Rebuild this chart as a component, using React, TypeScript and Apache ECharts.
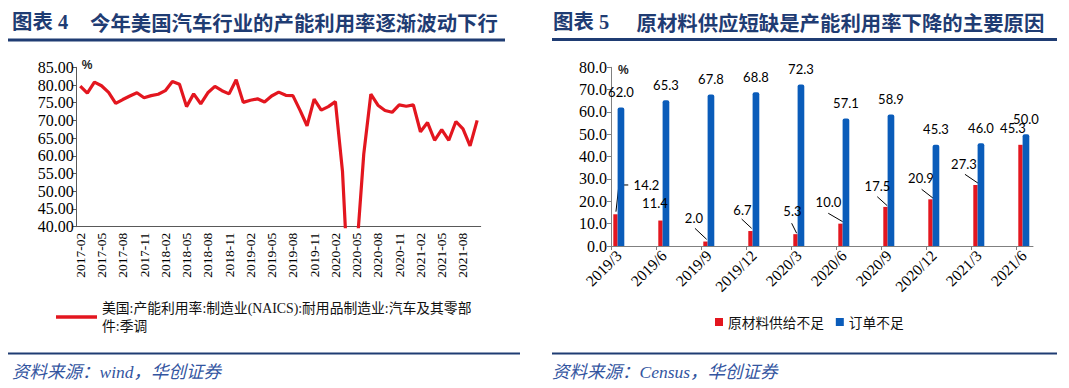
import React, { useEffect, useRef } from 'react';
import * as echarts from 'echarts';

// ---------- data: left chart ----------
const months = [
  '2017-02', '2017-03', '2017-04', '2017-05', '2017-06', '2017-07', '2017-08', '2017-09', '2017-10', '2017-11', '2017-12',
  '2018-01', '2018-02', '2018-03', '2018-04', '2018-05', '2018-06', '2018-07', '2018-08', '2018-09', '2018-10', '2018-11', '2018-12',
  '2019-01', '2019-02', '2019-03', '2019-04', '2019-05', '2019-06', '2019-07', '2019-08', '2019-09', '2019-10', '2019-11', '2019-12',
  '2020-01', '2020-02', '2020-03', '2020-04', '2020-05', '2020-06', '2020-07', '2020-08', '2020-09', '2020-10', '2020-11', '2020-12',
  '2021-01', '2021-02', '2021-03', '2021-04', '2021-05', '2021-06', '2021-07', '2021-08', '2021-09', '2021-10',
];
const utilization = [
  79.7, 77.7, 80.8, 79.8, 77.9, 74.8, 75.9, 76.9, 77.8, 76.4, 77.0,
  77.4, 78.4, 81.0, 80.2, 73.9, 77.5, 74.7, 77.8, 79.6, 78.4, 77.5, 81.5,
  75.1, 75.7, 76.1, 75.2, 76.9, 78.0, 77.1, 77.0, 72.9, 68.5, 76.0, 72.9,
  73.9, 75.3, 55.6, 16.0, 33.0, 60.5, 77.4, 74.3, 72.8, 72.3, 74.4, 74.0,
  74.4, 66.8, 69.4, 64.4, 67.4, 64.4, 69.7, 67.6, 62.8, 70.0,
];
const lineName = '美国:产能利用率:制造业(NAICS):耐用品制造业:汽车及其零部件:季调';
const lineNameBreak = '件:季调';

// ---------- data: right chart ----------
const quarters = ['2019/3', '2019/6', '2019/9', '2019/12', '2020/3', '2020/6', '2020/9', '2020/12', '2021/3', '2021/6'];
const shortageName = '原材料供给不足';
const orderName = '订单不足';
const shortageValues = [14.2, 11.4, 2.0, 6.7, 5.3, 10.0, 17.5, 20.9, 27.3, 45.3];
const orderValues = [62.0, 65.3, 67.8, 68.8, 72.3, 57.1, 58.9, 45.3, 46.0, 50.0];

// ---------- texts ----------
const title1Prefix = '图表 4';
const title1 = '今年美国汽车行业的产能利用率逐渐波动下行';
const title2Prefix = '图表 5';
const title2 = '原材料供应短缺是产能利用率下降的主要原因';
const source1 = '资料来源：wind，华创证券';
const source2 = '资料来源：Census，华创证券';

// ---------- styles / layout ----------
const SERIF = '"Liberation Serif", "Times New Roman", "Noto Sans CJK SC", serif';
const CJK = '"Noto Sans CJK SC", sans-serif';
const NAVY = '#1f3c73';
const SRC_BLUE = '#33559f';
const RED = '#e3161f';
const BLUE = '#0a5cba';
const AXIS_L = '#595959';
const AXIS_R = '#808080';
const RED_W = 4.3;
const BLUE_W = 6.7;
const categoryStep = 45;
// label offsets (px) of red bar labels relative to the bar's top centre
const redLabelOffsets: [number, number][] = [
  [31, -29], [-5.5, -18], [-11.5, -24], [-8, -21], [-3, -23],
  [-12, -22], [-8, -21], [-9.5, -21.5], [-11.5, -21.5], [-7.5, -16.5],
];
// leader-line points (px) relative to the red bar's top centre; empty = no leader
const redLeaderPoints: [number, number][][] = [
  [[0.5, -2.6], [3.5, -29.3], [12.8, -29.3]],
  [],
  [[-10.5, -13.2], [1.2, -2.2]],
  [[-8.8, -12], [1.2, -2.7]],
  [[-3.8, -10.9], [1.2, -0.9]],
  [[-12.2, -10.4], [2.2, -2]],
  [[-8.2, -10.2], [1.8, -1.2]],
  [[-8.8, -10], [2.8, -1]],
  [[-10.5, -10.7], [2.8, -1.7]],
  [],
];

function titleOption(prefix: string, text: string, left: number, prefixWidth: number) {
  const base = { fontSize: 20.4, fontWeight: 'bold' as const, color: NAVY, fontFamily: SERIF, lineHeight: 24 };
  return {
    text: `{p|${prefix}}{t|${text}}`,
    left,
    top: 10,
    padding: 0,
    textStyle: { ...base, rich: { p: { ...base, width: prefixWidth }, t: { ...base, fontFamily: CJK } } },
  };
}

export default function App() {
  const ref = useRef<HTMLDivElement>(null);
  useEffect(() => {
    const chart = echarts.init(ref.current!, null, { renderer: 'svg' });
    const redCenterShift = -(RED_W + BLUE_W) / 2 + RED_W / 2;
    const option: any = {
      animation: false,
      backgroundColor: '#ffffff',
      textStyle: { fontFamily: SERIF },
      title: [titleOption(title1Prefix, title1, 12, 78), titleOption(title2Prefix, title2, 553, 83.5)],
      grid: [
        { left: 76.7, top: 67.3, width: 404, height: 159.4 },
        { left: 611, top: 67.3, width: 422, height: 178.7 },
        { left: 618.8, top: 67.3, width: 405, height: 178.7 },
      ],
      xAxis: [
        {
          gridIndex: 0,
          type: 'category',
          data: months,
          boundaryGap: true,
          axisLine: { lineStyle: { color: AXIS_L, width: 1 } },
          axisTick: { interval: 2, length: 4, lineStyle: { color: AXIS_L } },
          axisLabel: { interval: 2, rotate: 90, margin: 6, fontSize: 13.5, fontFamily: SERIF, color: '#000' },
          splitLine: { show: false },
        },
        {
          gridIndex: 1,
          type: 'value',
          min: 0,
          max: 422 / categoryStep,
          interval: 1,
          axisLine: { show: true, lineStyle: { color: AXIS_R, width: 1 } },
          axisTick: { show: true, length: 4, customValues: quarters.map((_, i) => i), lineStyle: { color: AXIS_R } },
          axisLabel: { show: false },
          splitLine: { show: false },
        },
        {
          gridIndex: 2,
          type: 'category',
          data: quarters,
          boundaryGap: false,
          axisLine: { show: false },
          axisTick: { show: false },
          axisLabel: { rotate: 45, margin: 7, fontSize: 15.5, fontFamily: SERIF, color: '#000', interval: 0 },
          splitLine: { show: false },
        },
      ],
      yAxis: [
        {
          gridIndex: 0,
          type: 'value',
          min: 40,
          max: 85,
          interval: 5,
          name: '%',
          nameLocation: 'end',
          nameGap: 2,
          nameTextStyle: { align: 'left', verticalAlign: 'middle', padding: [0, 0, 0, 5], fontSize: 12, fontWeight: 'bold', color: '#222', fontFamily: '"Liberation Sans", sans-serif' },
          axisLine: { show: true, lineStyle: { color: AXIS_L, width: 1 } },
          axisTick: { show: true, length: 4, lineStyle: { color: AXIS_L } },
          axisLabel: { margin: 3, fontSize: 16, fontFamily: SERIF, color: '#000', formatter: (v: number) => v.toFixed(2) },
          splitLine: { show: false },
        },
        {
          gridIndex: 1,
          type: 'value',
          min: 0,
          max: 80,
          interval: 10,
          name: '%',
          nameLocation: 'end',
          nameGap: -3,
          nameTextStyle: { align: 'left', verticalAlign: 'middle', padding: [0, 0, 0, 7], fontSize: 12, fontWeight: 'bold', color: '#222', fontFamily: '"Liberation Sans", sans-serif' },
          axisLine: { show: true, lineStyle: { color: AXIS_R, width: 1 } },
          axisTick: { show: true, length: 4, lineStyle: { color: AXIS_R } },
          axisLabel: { margin: 4, fontSize: 16, fontFamily: SERIF, color: '#000', formatter: (v: number) => v.toFixed(1) },
          splitLine: { show: false },
        },
        { gridIndex: 2, type: 'value', min: 0, max: 80, show: false },
      ],
      legend: [
        {
          data: [lineName],
          left: 56,
          top: 290,
          padding: 0,
          icon: 'rect',
          itemWidth: 41,
          itemHeight: 3.5,
          formatter: (name: string) => {
            const k = name.indexOf(lineNameBreak);
            return name.slice(0, k) + '\n' + name.slice(k);
          },
          textStyle: { fontSize: 13.8, lineHeight: 18, padding: [18, 0, 0, 0], fontFamily: SERIF, color: '#111' },
        },
        {
          data: [shortageName, orderName],
          left: 715,
          top: 314,
          padding: 0,
          icon: 'rect',
          itemWidth: 8,
          itemHeight: 8,
          itemGap: 12,
          textStyle: { fontSize: 13.7, lineHeight: 16, fontFamily: CJK, color: '#111' },
        },
      ],
      series: [
        {
          name: lineName,
          type: 'line',
          xAxisIndex: 0,
          yAxisIndex: 0,
          data: utilization,
          symbol: 'none',
          color: RED,
          lineStyle: { color: RED, width: 3.2 },
          clip: true,
        },
        {
          name: shortageName,
          type: 'bar',
          xAxisIndex: 2,
          yAxisIndex: 2,
          data: shortageValues,
          barWidth: RED_W,
          barGap: '0%',
          clip: false,
          color: RED,
          itemStyle: { color: RED },
          label: {
            show: true,
            position: 'top',
            fontSize: 13,
            fontFamily: 'Lato, "Liberation Sans", sans-serif',
            color: '#000',
            formatter: (p: any) => Number(p.value).toFixed(1),
          },
          labelLayout: (p: any) => {
            const o = redLabelOffsets[p.dataIndex];
            const top = Math.min(p.rect.y, p.rect.y + p.rect.height);
            return { x: p.rect.x + p.rect.width / 2 + o[0], y: top + o[1], align: 'center', verticalAlign: 'middle' };
          },
        },
        {
          name: orderName,
          type: 'bar',
          xAxisIndex: 2,
          yAxisIndex: 2,
          data: orderValues,
          barWidth: BLUE_W,
          barGap: '0%',
          clip: false,
          color: BLUE,
          itemStyle: { color: BLUE, borderRadius: [2, 2, 0, 0] },
          label: {
            show: true,
            position: 'top',
            distance: 9,
            fontSize: 13,
            fontFamily: 'Lato, "Liberation Sans", sans-serif',
            color: '#000',
            formatter: (p: any) => Number(p.value).toFixed(1),
          },
        },
        {
          name: 'leaders',
          type: 'custom',
          xAxisIndex: 2,
          yAxisIndex: 2,
          clip: false,
          silent: true,
          data: shortageValues.map((v, i) => [i, v]),
          renderItem: (params: any, api: any) => {
            const pts = redLeaderPoints[params.dataIndex];
            if (!pts.length) return null;
            const c = api.coord([api.value(0), api.value(1)]);
            const cx = c[0] + redCenterShift;
            return {
              type: 'polyline',
              shape: { points: pts.map(([dx, dy]) => [cx + dx, c[1] + dy]) },
              style: { stroke: '#000', lineWidth: 1, fill: null },
            };
          },
        },
      ],
      graphic: [
        { type: 'line', shape: { x1: 8, y1: 40, x2: 505, y2: 40 }, style: { stroke: NAVY, lineWidth: 3 } },
        { type: 'line', shape: { x1: 552, y1: 39.5, x2: 1057, y2: 39.5 }, style: { stroke: NAVY, lineWidth: 3 } },
        { type: 'line', shape: { x1: 8, y1: 353.5, x2: 520, y2: 353.5 }, style: { stroke: NAVY, lineWidth: 2 } },
        { type: 'line', shape: { x1: 552, y1: 353.5, x2: 1057, y2: 353.5 }, style: { stroke: NAVY, lineWidth: 2 } },
        {
          type: 'text', x: 12, y: 372,
          style: { text: source1, fontSize: 17.5, fontStyle: 'italic', fontFamily: SERIF, fill: SRC_BLUE, verticalAlign: 'middle' },
        },
        {
          type: 'text', x: 552, y: 372,
          style: { text: source2, fontSize: 17.5, fontStyle: 'italic', fontFamily: SERIF, fill: SRC_BLUE, verticalAlign: 'middle' },
        },
      ],
    };
    chart.setOption(option);
    return () => chart.dispose();
  }, []);
  return (
    <div
      ref={ref}
      style={{ position: 'absolute', left: 0, top: 0, width: 1069, height: 388, background: '#fff' }}
    />
  );
}
